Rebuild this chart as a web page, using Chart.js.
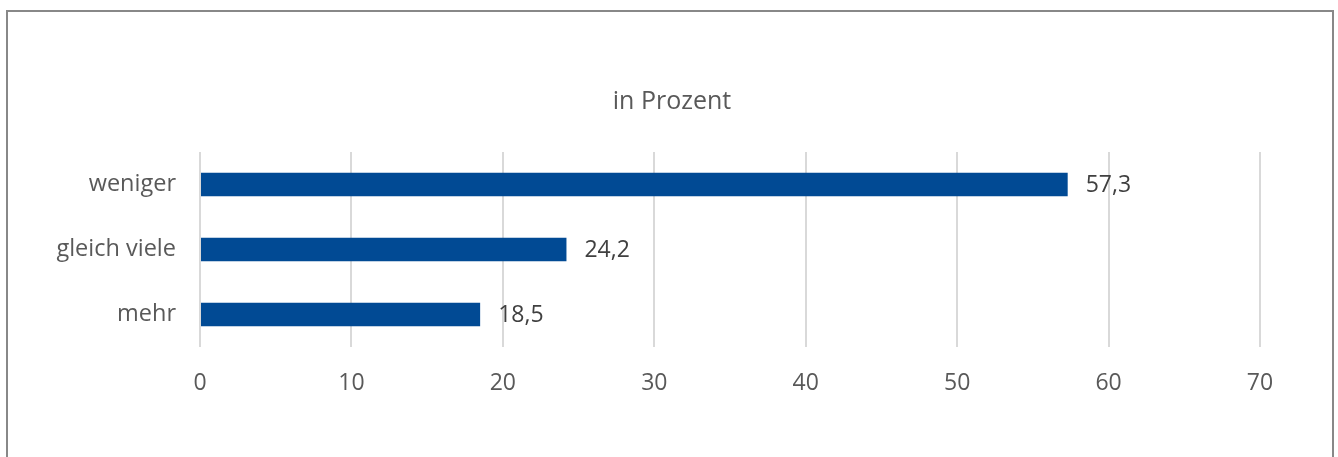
<!DOCTYPE html>
<html><head><meta charset="utf-8">
<script src="https://cdn.jsdelivr.net/npm/chart.js@4"></script>
<style>
html,body{margin:0;padding:0;background:#fff;overflow:hidden}
#wrap{position:relative;width:1338px;height:457px}
#frame{position:absolute;left:6px;top:10px;width:1328px;height:460px;border:2px solid #888;box-sizing:border-box}
canvas{position:absolute;left:0;top:0}
</style></head>
<body><div id="wrap"><div id="frame"></div><canvas id="c" width="1338" height="457"></canvas></div>
<script>
const categories = ["weniger", "gleich viele", "mehr"];
const values = [57.3, 24.2, 18.5];
const xTicks = [0, 10, 20, 30, 40, 50, 60, 70];
const titleText = "in Prozent";

const FONT = "'Open Sans', 'Noto Sans', sans-serif";

const labelPlugin = {
  id: 'valueLabels',
  afterDatasetsDraw(chart) {
    const ctx = chart.ctx;
    const meta = chart.getDatasetMeta(0);
    ctx.save();
    ctx.font = "23px " + FONT;
    ctx.fillStyle = "#404040";
    ctx.textAlign = "left";
    ctx.textBaseline = "middle";
    meta.data.forEach((el, i) => {
      ctx.fillText(values[i].toFixed(1).replace('.', ','), el.x + 18, el.y + 1);
    });
    ctx.restore();
  }
};

const titlePlugin = {
  id: 'centerTitle',
  afterDraw(chart) {
    const ctx = chart.ctx;
    ctx.save();
    ctx.font = "25px " + FONT;
    ctx.fillStyle = "#595959";
    ctx.textAlign = "center";
    ctx.textBaseline = "middle";
    ctx.fillText(titleText, chart.width / 2 + 3, 102);
    ctx.restore();
  }
};

new Chart(document.getElementById('c'), {
  type: 'bar',
  data: {
    labels: categories,
    datasets: [{
      data: values,
      backgroundColor: '#014A94',
      borderWidth: 0,
      categoryPercentage: 1,
      barPercentage: 0.36
    }]
  },
  options: {
    indexAxis: 'y',
    responsive: false,
    animation: false,
    devicePixelRatio: 1,
    layout: { padding: { left: 0, right: 78, top: 152, bottom: 0 } },
    plugins: {
      legend: { display: false },
      tooltip: { enabled: false },
      title: { display: false }
    },
    scales: {
      x: {
        min: 0, max: 70,
        afterBuildTicks(scale) { scale.ticks = xTicks.map(v => ({ value: v })); },
        afterFit(scale) { scale.height = 110; },
        grid: { color: '#d9d9d9', lineWidth: 2, drawTicks: false },
        border: { display: false },
        ticks: {
          color: '#595959', padding: 23,
          font: { family: FONT, size: 23 }
        }
      },
      y: {
        afterFit(scale) { scale.width = 200; },
        grid: { display: false },
        border: { display: false },
        ticks: {
          color: '#595959', padding: 16,
          font: { family: FONT, size: 23.5 }
        }
      }
    }
  },
  plugins: [labelPlugin, titlePlugin]
});
</script></body></html>
